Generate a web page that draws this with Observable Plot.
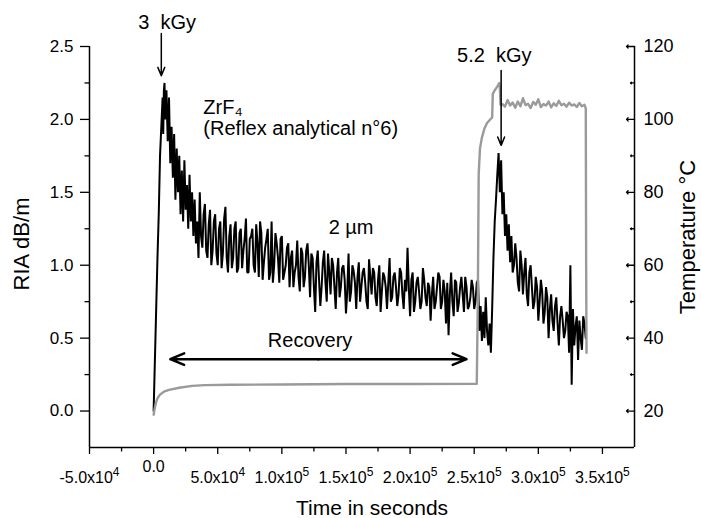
<!DOCTYPE html>
<html><head><meta charset="utf-8">
<script src="https://cdn.jsdelivr.net/npm/d3@7"></script>
<script src="https://cdn.jsdelivr.net/npm/@observablehq/plot@0.6"></script>
<style>
body{margin:0;background:#fff}
svg{font-family:'Liberation Sans',Arial,Helvetica,sans-serif}
</style>
</head><body><div id="chart"></div>
<script>
// ---- axes ----
const xDomain = [-50000, 375000];
const yDomain = [-0.25, 2.5];
const xMajor = [-50000, 0, 50000, 100000, 150000, 200000, 250000, 300000, 350000];
const xMinor = [-25000, 25000, 75000, 125000, 175000, 225000, 275000, 325000];
const xTickText = ["-5.0x10", "0.0", "5.0x10", "1.0x10", "1.5x10", "2.0x10", "2.5x10", "3.0x10", "3.5x10"];
const xTickExp  = ["4", "", "4", "5", "5", "5", "5", "5", "5"];
const yMajor = [0, 0.5, 1, 1.5, 2, 2.5];
const yMinor = [0.25, 0.75, 1.25, 1.75, 2.25];
const yTickText = ["0.0", "0.5", "1.0", "1.5", "2.0", "2.5"];
const tempMajor = [20, 40, 60, 80, 100, 120];
const tempMinor = [30, 50, 70, 90, 110];
const tempBase = 20, tempPerUnit = 40; // right axis: 20 °C at RIA 0, 40 °C per dB/m

// ---- RIA (dB/m) vs time (ks) ----
const ria = [
 [0,0],[1,0.35],[2,0.7],[3,1.05],[4,1.35],[5,1.75],[6,1.95],[7,2.15],[7.5,1.9],[8,2.2],[8.5,2.25],[9,2.0],
 [10,2.2],[11,1.85],[12,2.15],[13,1.7],[14,1.95],[15,1.6],[16,1.9],[17,1.45],[18,1.8],[19,1.5],[20,1.75],
 [21,1.35],[22,1.65],[23,1.3],[24,1.72],[25,1.38],[26,1.55],[27,1.25],[28,1.62],[29,1.3],[30,1.5],[31,1.2],[32,1.45],
 [33,1.15],[34,1.3],[35,1.05],[36,1.5],[37,1.2],[38,1.12],[39,1.35],[40,1.42],[41,1.1],[42,1.05],[43,1.28],[44,1.38],
 [45,1.0],[46,1.1],[47,1.3],[48,1.35],[49,1.08],[50,1.0],[51,1.25],[52,1.3],[53,0.98],[54,1.08],[55,1.32],
 [56,1.4],[57,1.05],[58,0.95],[59,1.2],[60,1.28],[61,0.98],[62,1.05],[63,1.25],[64,1.3],[65,0.95],[66,0.98],[67,1.22],[68,1.25],[69,0.98],[70,1.1],[71,1.18],[72,1.32],[73,0.95],[74,0.95],[75,1.18],[76,1.2],
 [78,1.0],[80,1.28],[82,0.92],[84,1.22],[86,1.02],[88,1.18],[90,0.9],[92,1.3],[94,1.0],[96,1.15],[98,0.88],
 [100,1.2],[102,0.95],[104,1.12],[106,0.85],[108,1.1],[110,0.95],[112,1.17],[114,0.82],[116,1.08],[118,0.92],
 [120,1.15],[122,0.78],[124,1.05],[126,0.68],[128,1.1],[130,0.72],[132,1.02],[134,0.88],[136,1.08],[138,0.8],
 [140,1.0],[142,0.7],[144,1.05],[146,0.85],[148,1.0],[150,0.67],[152,1.08],[154,0.82],[156,0.96],[158,0.7],
 [160,1.02],[162,0.85],[164,0.98],[166,0.75],[168,1.04],[170,0.8],[172,0.95],[174,0.72],[176,1.0],[178,0.82],
 [180,0.92],[182,0.7],[184,1.05],[186,0.78],[188,0.95],[190,0.72],[192,0.98],[194,0.8],[196,0.9],[198,1.12],
 [200,0.65],[202,0.95],[204,0.75],[206,0.92],[208,0.7],[210,0.98],[212,0.78],[214,0.88],[216,0.62],[218,0.92],
 [220,0.75],[222,0.95],[224,0.7],[226,0.9],[228,0.6],[230,0.52],[232,0.95],[234,0.65],[236,0.88],[238,0.74],
 [240,0.92],[242,0.68],[244,0.85],[246,0.72],[248,0.9],[250,0.7],[252,0.88],
 [253,0.9],[254,0.55],[255,0.72],[256,0.48],[257,0.68],[258,0.5],[259,0.78],[260,0.55],[261,0.45],[262,0.6],
 [263,0.4],[264,0.7],[265,1.05],[266,1.3],[267,1.45],[268,1.62],[269,1.77],[270,1.5],[271,1.72],[272,1.35],
 [273,1.5],[274,1.2],[275,1.35],[276,1.1],[277,1.28],[278,1.02],[279,1.2],[280,0.95],[282,1.15],[284,0.88],
 [286,1.1],[288,0.8],[290,1.05],[292,0.72],[294,1.0],[296,0.7],[298,0.92],[300,0.62],[302,0.9],[304,0.6],
 [306,0.85],[308,0.5],[310,0.8],[312,0.55],[314,0.78],[316,0.45],[318,0.72],[320,0.5],[322,0.68],[324,0.4],
 [325,1.0],[326,0.18],[327,0.7],[328,0.45],[330,0.65],[331,0.35],[332,0.62],[334,0.42],[336,0.6],[337,0.5]
];
// extra readings between the samples above (odd ks)
const riaOdd = [
 [77,1.25],[79,0.95],[81,1.15],[83,1.3],[85,0.9],[87,1.12],[89,1.25],[91,0.95],[93,0.88],[95,1.22],[97,1.05],
 [99,1.18],[101,0.9],[103,1.0],[105,1.15],[107,1.05],[109,0.85],[111,1.0],[113,0.92],[115,1.12],[117,0.85],
 [119,1.1],[121,1.0],[123,1.08],[125,0.85],[127,1.02],[129,0.9],[131,0.85],[133,1.1],[135,0.75],[137,0.95],
 [139,1.05],[141,0.85],[143,0.95],[145,0.78],[147,0.98],[149,0.9],[151,0.82],[153,0.75],[155,1.0],[157,0.88],
 [159,0.92],[161,0.75],[163,0.95],[165,0.88],[167,0.7],[169,0.92],[171,0.98],[173,0.78],[175,0.9],[177,0.68],
 [179,0.95],[181,0.85],[183,0.88],[185,0.75],[187,0.92],[189,0.85],[191,0.8],[193,0.95],[195,0.7],[197,0.82],
 [199,0.85],[201,0.9],[203,0.68],[205,0.88],[207,0.82],[209,0.75],[211,0.9],[213,0.72],[215,0.85],[217,0.8],
 [219,0.7],[221,0.85],[223,0.92],[225,0.75],[227,0.82],[229,0.88],[231,0.8],[233,0.75],[235,0.9],[237,0.68],
 [239,0.85],[241,0.8],[243,0.92],[245,0.7],[247,0.78],[249,0.85],[251,0.75],
 [281,1.0],[283,1.05],[285,0.82],[287,1.0],[289,0.95],[291,0.8],[293,0.95],[295,0.85],[297,0.75],[299,0.85],
 [301,0.75],[303,0.82],[305,0.68],[307,0.78],[309,0.7],[311,0.62],[313,0.72],[315,0.6],[317,0.65],[319,0.62],
 [321,0.55],[323,0.65],[329,0.58],[333,0.5],[335,0.65]
];

// ---- Temperature (°C) vs time (ks) ----
const temp = [
 [0,19.0],[1,21.0],[2,22.5],[3,23.5],[5,24.5],[8,25.3],[12,25.8],[20,26.4],[30,26.9],[40,27.1],[60,27.2],
 [100,27.3],[150,27.4],[200,27.4],[252,27.5],[252.8,50],[253.5,85],[254.5,92],[256,95],[258,97.5],[260,99],
 [263,100.2],[264,100.5],[264.5,107],[266,108],[268,109],[269.5,110],[270,109],[270.5,104],
 [272,104.2],[274,103.5],[276,105.3],[278,103.8],[280,104.6],[282,103.2],[284,104.9],[286,103.6],[288,105.8],
 [290,103.9],[292,104.3],[294,103.1],[296,104.8],[298,104.0],[300,105.5],[302,103.4],[304,104.2],[306,103.8],
 [308,104.9],[310,103.3],[312,104.4],[314,103.7],[316,105.1],[318,103.9],[320,104.3],[322,103.5],[324,104.6],
 [326,103.8],[328,104.1],[330,103.4],[332,104.5],[334,103.6],[336,104.0],[337,103],[337.3,60],[337.6,36]
];

// ---- annotations (data coordinates: time s, RIA dB/m) ----
const centeredLabels = [
 {t: 10600, v: 2.664, text: "3\u00a0\u00a0kGy"},
 {t: 265700, v: 2.438, text: "5.2\u00a0\u00a0kGy"},
 {t: 154000, v: 1.26, text: "2 µm"},
 {t: 122000, v: 0.486, text: "Recovery"}
];
const leftLabels = [
 {t: 38800, v: 2.082, text: "ZrF\u2084"},
 {t: 38800, v: 1.938, text: "(Reflex analytical n°6)"}
];
const doseArrows = [
 {t: 6000, v1: 2.59, v2: 2.30},
 {t: 271000, v1: 2.336, v2: 1.822}
];
const recoveryX = [13000, 244000];
const recoveryY = 0.356;

const riaData = ria.concat(riaOdd).sort((a, b) => a[0] - b[0]).map(([k, v]) => ({t: k * 1000, v}));
const tempData = temp.map(([k, T]) => ({t: k * 1000, v: (T - tempBase) / tempPerUnit}));
const recMid = (recoveryX[0] + recoveryX[1]) / 2;
const recArrows = recoveryX.map(x => ({x1: recMid, x2: x}));
const toY = T => (T - tempBase) / tempPerUnit;

const chart = Plot.plot({
  width: 701, height: 518,
  marginLeft: 89, marginRight: 67, marginTop: 46, marginBottom: 71,
  style: {background: "white", overflow: "visible", fontFamily: "'Liberation Sans',Arial,sans-serif"},
  x: {domain: xDomain},
  y: {domain: yDomain},
  marks: [
    // axes lines
    Plot.ruleX(xDomain, {stroke: "black", strokeWidth: 1.5}),
    Plot.ruleY([yDomain[0]], {stroke: "black", strokeWidth: 1.5}),
    // left axis
    Plot.axisY({ticks: yMajor, tickSize: 9, tickPadding: 7, tickFormat: d => yTickText[yMajor.indexOf(d)], fontSize: 17, label: null, strokeWidth: 1.3, color: "black"}),
    Plot.axisY({ticks: yMinor, tickSize: 4.5, tickFormat: () => "", label: null, strokeWidth: 1.3}),
    // bottom axis
    Plot.axisX({ticks: xMajor, tickSize: 7, tickPadding: 17, tickFormat: d => xTickText[xMajor.indexOf(d)] + "|" + xTickExp[xMajor.indexOf(d)], fontSize: 16, label: null, strokeWidth: 1.3}),
    Plot.axisX({ticks: xMinor, tickSize: 4.5, tickFormat: () => "", label: null, strokeWidth: 1.3}),
    // right axis (temperature), inward ticks
    Plot.vector(tempMajor, {y: toY, frameAnchor: "right", rotate: -90, length: 8, anchor: "start", stroke: "black", strokeWidth: 1.3}),
    Plot.vector(tempMinor, {y: toY, frameAnchor: "right", rotate: -90, length: 4, anchor: "start", stroke: "black", strokeWidth: 1.3}),
    Plot.axisY({anchor: "right", ticks: tempMajor.map(toY), tickSize: 0, tickPadding: 9, tickFormat: d => String(tempMajor[tempMajor.map(toY).indexOf(d)]), fontSize: 18, label: null}),
    // data
    Plot.line(riaData, {x: "t", y: "v", stroke: "black", strokeWidth: 2, strokeLinejoin: "miter"}),
    Plot.line(tempData, {x: "t", y: "v", stroke: "#9a9a9a", strokeWidth: 2.4}),
    // annotations
    Plot.arrow(doseArrows, {x: "t", y1: "v1", y2: "v2", stroke: "black", strokeWidth: 1.5, headLength: 9, headAngle: 45}),
    Plot.arrow(recArrows, {x1: "x1", x2: "x2", y: recoveryY, stroke: "black", strokeWidth: 2.5, headLength: 9, headAngle: 45}),
    Plot.text(centeredLabels, {x: "t", y: "v", text: "text", textAnchor: "middle", fontSize: 20, fill: "black"}),
    Plot.text(leftLabels, {x: "t", y: "v", text: "text", textAnchor: "start", fontSize: 20, fill: "black"}),
    // axis titles
    Plot.text(["RIA dB/m"], {text: d => d, frameAnchor: "left", textAnchor: "middle", lineAnchor: "middle", dx: -68, dy: -3, rotate: -90, fontSize: 22, fill: "black"}),
    Plot.text(["Temperature °C"], {text: d => d, frameAnchor: "right", textAnchor: "middle", lineAnchor: "middle", dx: 53, dy: -10, rotate: -90, fontSize: 22, fill: "black", ariaLabel: "temp-title"}),
    Plot.text(["Time in seconds"], {text: d => d, frameAnchor: "bottom", textAnchor: "middle", lineAnchor: "middle", dx: 10, dy: 61, fontSize: 21, fill: "black"})
  ]
});

// superscripts on x tick labels
d3.select(chart).selectAll('g[aria-label="x-axis tick label"] text').each(function() {
  const s = d3.select(this).text();
  if (!s.includes("|")) return;
  const [main, exp] = s.split("|");
  const el = d3.select(this);
  el.text(null);
  el.append("tspan").text(main);
  if (exp) el.append("tspan").attr("dy", "-0.6em").attr("font-size", "12px").text(exp);
  else el.attr("dy", "-11");
});
// the right-hand title is drawn taller in the reference
d3.select(chart).selectAll('g[aria-label="temp-title"] text').attr("textLength", 215).attr("lengthAdjust", "spacingAndGlyphs");
document.getElementById("chart").appendChild(chart);
</script>
</body></html>
